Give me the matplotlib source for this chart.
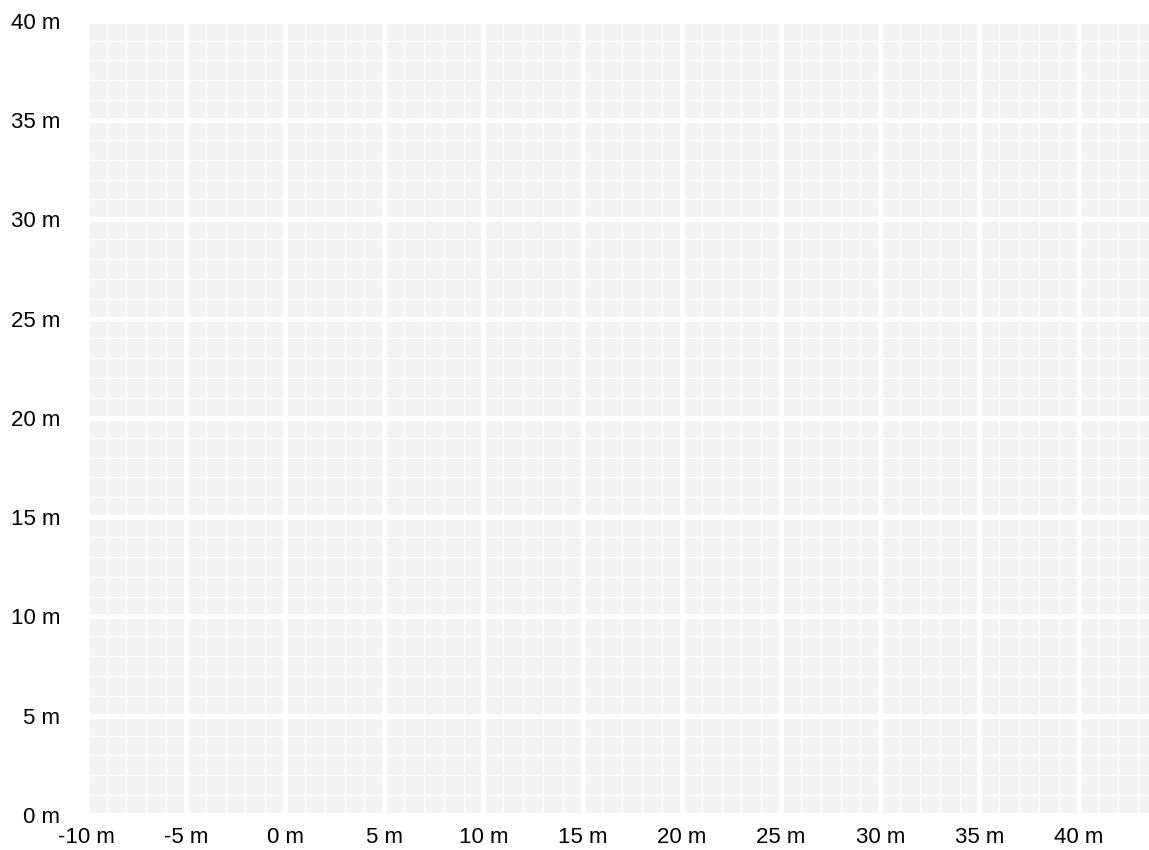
import numpy as np
import matplotlib
matplotlib.use("Agg")
import matplotlib.pyplot as plt
from matplotlib.ticker import MultipleLocator, FuncFormatter

# axis ranges (metres)
x_range = [-10, 43.55]
y_range = [0, 40]
major_step = 5
minor_step = 1

plt.rcParams['font.family'] = ['Liberation Sans', 'DejaVu Sans']

fig = plt.figure(figsize=(11.49, 8.5), dpi=100)
ax = fig.add_axes([86.7 / 1149, 35 / 850, (1149 - 86.7) / 1149, (815 - 20.7) / 850])
ax.set_facecolor('#f3f3f3')
ax.set_xlim(*x_range)
ax.set_ylim(*y_range)

ax.xaxis.set_major_locator(MultipleLocator(major_step))
ax.yaxis.set_major_locator(MultipleLocator(major_step))
ax.xaxis.set_minor_locator(MultipleLocator(minor_step))
ax.yaxis.set_minor_locator(MultipleLocator(minor_step))

fmt = FuncFormatter(lambda v, pos: f"{v:.0f} m")
ax.xaxis.set_major_formatter(fmt)
ax.yaxis.set_major_formatter(fmt)

ax.grid(which='minor', color='white', linewidth=0.9)
ax.grid(which='major', color='white', linewidth=3.6)
ax.set_axisbelow(True)

for s in ax.spines.values():
    s.set_visible(False)

ax.tick_params(which='both', length=0)
ax.tick_params(axis='x', pad=8.5, labelsize=16)
ax.tick_params(axis='y', pad=19, labelsize=16)

fig.savefig('out.png', dpi=100)
